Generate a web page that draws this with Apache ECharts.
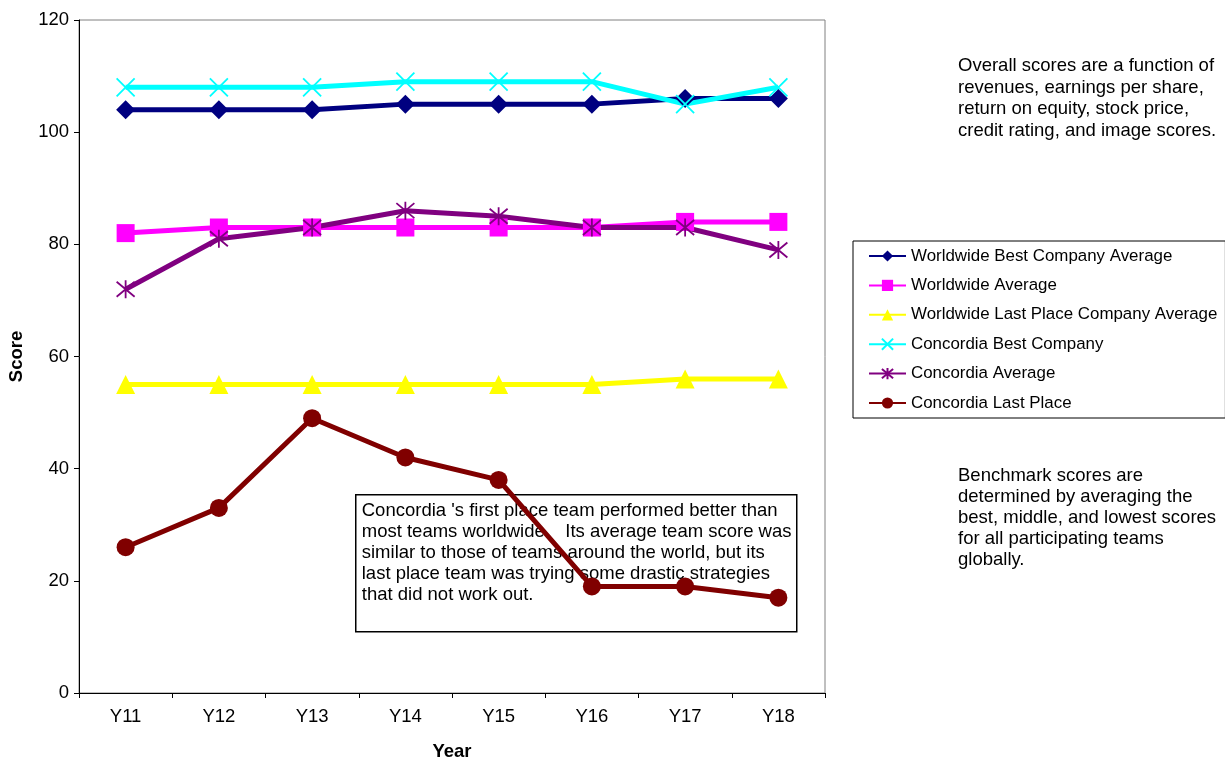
<!DOCTYPE html>
<html>
<head>
<meta charset="utf-8">
<script src="https://cdn.jsdelivr.net/npm/echarts@6/dist/echarts.min.js"></script>
<style>
  html, body { margin: 0; padding: 0; background: #fff; }
  #chart { width: 1225px; height: 757px; }
</style>
</head>
<body>
<div id="chart"></div>
<script>
// Benchmark score history by year
const years = ['Y11', 'Y12', 'Y13', 'Y14', 'Y15', 'Y16', 'Y17', 'Y18'];
const worldwideBest = [104, 104, 104, 105, 105, 105, 106, 106];
const worldwideAvg = [82, 83, 83, 83, 83, 83, 84, 84];
const worldwideLast = [55, 55, 55, 55, 55, 55, 56, 56];
const concordiaBest = [108, 108, 108, 109, 109, 109, 105, 108];
const concordiaAvg = [72, 81, 83, 86, 85, 83, 83, 79];
const concordiaLast = [26, 33, 49, 42, 38, 19, 19, 17];

const noteTop = 'Overall scores are a function of\nrevenues, earnings per share,\nreturn on equity, stock price,\ncredit rating, and image scores.';
const noteBottom = 'Benchmark scores are\ndetermined by averaging the\nbest, middle, and lowest scores\nfor all participating teams\nglobally.';
const noteBox = "Concordia 's first place team performed better than\nmost teams worldwide.   Its average team score was\nsimilar to those of teams around the world, but its\nlast place team was trying some drastic strategies\nthat did not work out.";

const FONT = '"Liberation Sans", Arial, sans-serif';
const FS = 18.5;

// Stroked marker shapes
const xMark = 'path://M0,0L10,10M10,0L0,10';
const starMark = 'path://M0,0L10,10M10,0L0,10M5,-1L5,11';

function makeSeries(name, data, color, symbol, size, stroked) {
  return {
    name: name,
    type: 'line',
    data: data,
    symbol: symbol,
    symbolSize: size,
    showAllSymbol: true,
    lineStyle: { color: color, width: 5 },
    itemStyle: stroked
      ? { color: 'rgba(0,0,0,0)', borderColor: color, borderWidth: 1.8 }
      : { color: color, borderColor: color, borderWidth: 0 },
    emphasis: { disabled: true },
    z: 3
  };
}

const chart = echarts.init(document.getElementById('chart'), null, { renderer: 'canvas' });

chart.setOption({
  animation: false,
  backgroundColor: '#ffffff',
  textStyle: { fontFamily: FONT },
  grid: {
    left: 79, right: 400, top: 20, bottom: 64,
    containLabel: false,
    outerBoundsMode: 'none',
    show: true, borderColor: '#808080', borderWidth: 1, backgroundColor: 'transparent'
  },
  legend: {
    orient: 'vertical',
    left: 853,
    top: 241,
    padding: [6, 8, 6, 15],
    itemWidth: 37,
    itemHeight: 14,
    itemGap: 11.4,
    itemTextGap: 4,
    borderColor: '#000',
    borderWidth: 1,
    backgroundColor: '#fff',
    textStyle: { fontFamily: FONT, fontSize: 16.9, lineHeight: 18, color: '#000' },
    data: ['Worldwide Best Company Average', 'Worldwide Average', 'Worldwide Last Place Company Average',
           'Concordia Best Company', 'Concordia Average', 'Concordia Last Place']
  },
  xAxis: {
    type: 'category',
    data: years,
    boundaryGap: true,
    name: 'Year',
    nameLocation: 'middle',
    nameGap: 49,
    nameTextStyle: { fontFamily: FONT, fontSize: FS, fontWeight: 'bold', color: '#000' },
    axisLine: { lineStyle: { color: '#000', width: 1 } },
    axisTick: { show: true, inside: false, length: 5, lineStyle: { color: '#000' } },
    axisLabel: { fontFamily: FONT, fontSize: FS, color: '#000', margin: 14 },
    splitLine: { show: false }
  },
  yAxis: {
    type: 'value',
    min: 0,
    max: 120,
    interval: 20,
    name: 'Score',
    nameLocation: 'middle',
    nameGap: 53,
    nameRotate: 90,
    nameTextStyle: { fontFamily: FONT, fontSize: FS, fontWeight: 'bold', color: '#000' },
    axisLine: { show: true, lineStyle: { color: '#000', width: 1 } },
    axisTick: { show: true, inside: false, length: 5, lineStyle: { color: '#000' } },
    axisLabel: { fontFamily: FONT, fontSize: FS, color: '#000', margin: 10 },
    splitLine: { show: false }
  },
  graphic: [
    {
      type: 'group',
      left: 355,
      top: 494,
      z: 1,
      children: [
        {
          type: 'rect',
          shape: { x: 0, y: 0, width: 441, height: 137 },
          style: { fill: '#fff', stroke: '#000', lineWidth: 1.5 },
          z: 1
        },
        {
          type: 'text',
          x: 6, y: 5.5,
          style: { text: noteBox, font: FS + 'px ' + FONT, fill: '#000', lineHeight: 21 },
          z: 1
        }
      ]
    },
    {
      type: 'text',
      left: 958,
      top: 55,
      style: { text: noteTop, font: FS + 'px ' + FONT, fill: '#000', lineHeight: 21.7 }
    },
    {
      type: 'text',
      left: 958,
      top: 465,
      style: { text: noteBottom, font: FS + 'px ' + FONT, fill: '#000', lineHeight: 21.2 }
    }
  ],
  series: [
    makeSeries('Worldwide Best Company Average', worldwideBest, '#000080', 'diamond', 19, false),
    makeSeries('Worldwide Average', worldwideAvg, '#ff00ff', 'rect', 18, false),
    makeSeries('Worldwide Last Place Company Average', worldwideLast, '#ffff00', 'triangle', 19, false),
    makeSeries('Concordia Best Company', concordiaBest, '#00ffff', xMark, 18, true),
    makeSeries('Concordia Average', concordiaAvg, '#800080', starMark, 18, true),
    makeSeries('Concordia Last Place', concordiaLast, '#800000', 'circle', 18, false)
  ]
});
</script>
</body>
</html>
